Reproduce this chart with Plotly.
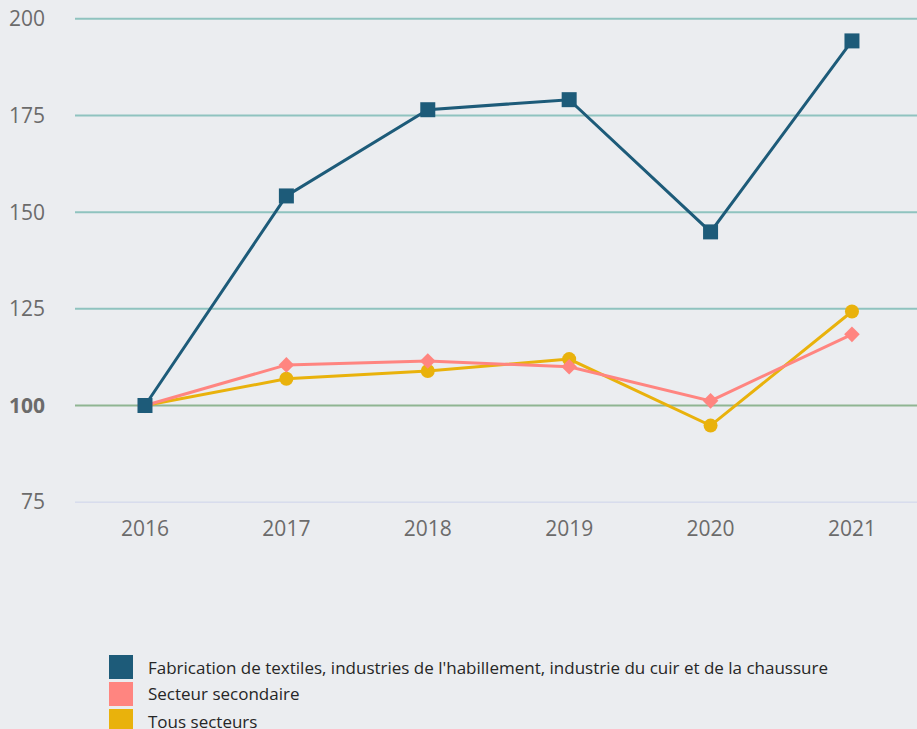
import plotly.graph_objects as go

years = [2016, 2017, 2018, 2019, 2020, 2021]
textiles = [100, 154.2, 176.5, 179.1, 144.9, 194.3]
secondaire = [100, 110.5, 111.5, 110.0, 101.2, 118.4]
tous = [100, 106.9, 108.9, 112.0, 94.8, 124.3]
tick_vals = [75, 100, 125, 150, 175, 200]
tick_text = ["75", "<b>100</b>", "125", "150", "175", "200"]

names = [
    "Fabrication de textiles, industries de l'habillement, industrie du cuir et de la chaussure",
    "Secteur secondaire",
    "Tous secteurs",
]
colors = ["#1d5b79", "#ff8580", "#e9b20c"]
symbols = ["square", "diamond", "circle"]
sizes = [15, 12, 14]
series = [textiles, secondaire, tous]

BG = "#ebedf0"
W, H = 917, 729
L, R, T, B = 75, 0, 15, 223
PW, PH = W - L - R, H - T - B


def px(x):
    return (x - L) / PW


def py(y):
    return (H - B - y) / PH


fig = go.Figure()

# grid lines
for v in tick_vals:
    col = "#8fc3bf"
    w = 2
    if v == 100:
        col = "#8fb592"
    if v == 75:
        col = "#ccd3ea"
        w = 1
    fig.add_shape(type="line", xref="paper", yref="y", x0=0, x1=1, y0=v, y1=v,
                  line=dict(color=col, width=w), layer="below")

for i in [2, 1, 0]:
    fig.add_trace(go.Scatter(
        x=years, y=series[i], name=names[i], mode="lines+markers",
        line=dict(color=colors[i], width=3),
        marker=dict(symbol=symbols[i], size=sizes[i], color=colors[i]),
        showlegend=False,
    ))

# legend drawn as shapes + text
for i, n in enumerate(names):
    top = 655 + i * 27
    fig.add_shape(type="rect", xref="paper", yref="paper",
                  x0=px(109), x1=px(133), y0=py(top), y1=py(top + 24),
                  fillcolor=colors[i], line=dict(width=0))
    fig.add_annotation(text=n, xref="paper", yref="paper",
                       x=px(146), y=py(top + 12),
                       xanchor="left", yanchor="middle", showarrow=False,
                       font=dict(size=17, color="#262626", family="Open Sans"))

fig.update_layout(
    width=W, height=H,
    margin=dict(l=L, r=R, t=T, b=B),
    paper_bgcolor=BG, plot_bgcolor=BG,
    font=dict(family="Open Sans", color="#666666"),
    xaxis=dict(range=[2015.505, 2021.46], tickvals=years, ticktext=[str(y) for y in years],
               showgrid=False, zeroline=False, showline=False,
               tickfont=dict(size=21, color="#6b6b6b"), ticks="", ticklabelstandoff=8),
    yaxis=dict(range=[74, 201], tickvals=tick_vals, ticktext=tick_text,
               showgrid=False, zeroline=False, showline=False,
               tickfont=dict(size=21, color="#6b6b6b"), ticks="", ticklabelstandoff=29),
)

fig.write_html(
    "out.html",
    config={"displayModeBar": False},
    post_script="document.body.style.margin='0';document.body.style.background='%s';"
                "document.body.style.overflow='hidden';" % BG,
)
